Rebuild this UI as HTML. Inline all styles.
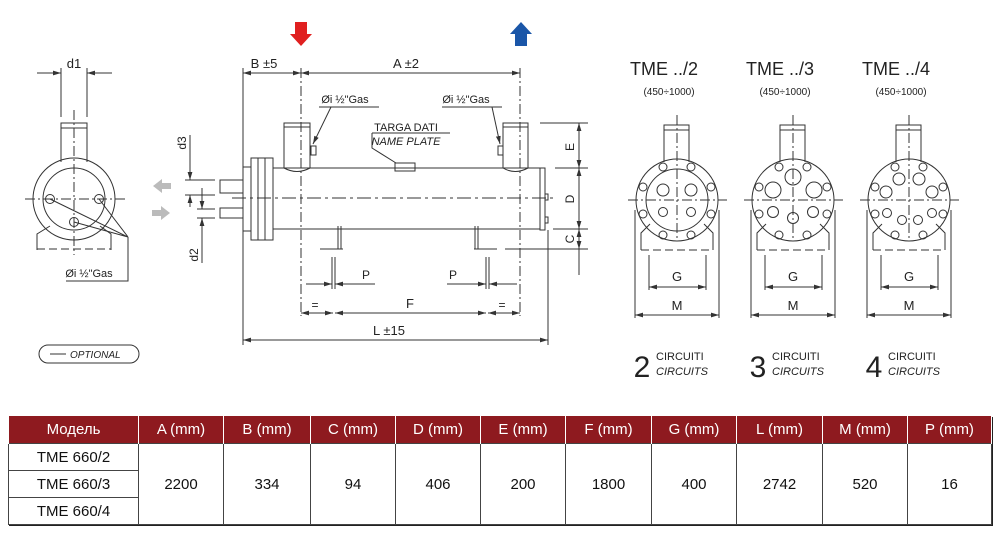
<!DOCTYPE html>
<html><head><meta charset="utf-8"><style>
body{margin:0;width:1000px;height:537px;background:#fff;overflow:hidden;position:relative;font-family:"Liberation Sans Narrow","Liberation Sans",sans-serif}
svg{position:absolute;left:0;top:0}
table{position:absolute;left:8px;top:416px;border-collapse:collapse;font-family:"Liberation Sans Narrow","Liberation Sans","DejaVu Sans",sans-serif;font-size:15px;color:#111;box-shadow:1px 1px 0 #222}
td{border:1px solid #444;text-align:center;padding:0;height:26px}
tr.h td{background:#8e1a1f;color:#fff;height:27px;border-color:#fff #fff #8e1a1f #fff;border-width:0 1px}
</style></head><body>
<svg width="1000" height="410" viewBox="0 0 1000 410" font-family="Liberation Sans Narrow, Liberation Sans, sans-serif" fill="none" stroke="#333" stroke-width="1">
<defs><marker id="a" viewBox="0 0 10 6" refX="10" refY="3" markerWidth="8" markerHeight="5" orient="auto-start-reverse"><path d="M0,0L10,3L0,6z" fill="#333" stroke="none"/></marker></defs>
<!-- left side view -->
<g>
<line x1="37" y1="73" x2="61" y2="73" marker-end="url(#a)"/><line x1="112" y1="73" x2="87" y2="73" marker-end="url(#a)"/>
<line x1="61" y1="68" x2="61" y2="117"/><line x1="87" y1="68" x2="87" y2="117"/>
<text x="74" y="68" font-size="13" fill="#222" stroke="none" text-anchor="middle">d1</text>
<rect x="61" y="123" width="26" height="5"/><path d="M61,128V162M87,128V162"/>
<circle cx="74" cy="199" r="41"/><circle cx="74" cy="199" r="31"/>
<line x1="74" y1="110" x2="74" y2="255" stroke-dasharray="10,3,2,3"/>
<line x1="25" y1="199" x2="125" y2="199" stroke-dasharray="10,3,2,3"/>
<circle cx="50" cy="199" r="4.5"/><circle cx="99" cy="199" r="4.5"/><circle cx="74" cy="222" r="4.5"/>
<path d="M37,250V234L50,226M111,250V234L100,226"/>
<line x1="37" y1="249" x2="111" y2="249" stroke-dasharray="8,4"/>
<path d="M50,199L128,237M99,199L128,237M74,222L128,237M128,237V281H66"/>
<text x="89" y="277" font-size="11" fill="#222" stroke="none" text-anchor="middle">Øi ½"Gas</text>
<rect x="39" y="345" width="100" height="18" rx="9"/>
<line x1="50" y1="354" x2="66" y2="354"/>
<text x="70" y="358" font-size="10" font-style="italic" fill="#222" stroke="none">OPTIONAL</text>
</g>
<!-- gray arrows -->
<path d="M153,186l9,-7v4h9v6h-9v4z" fill="#bbb" stroke="none"/>
<path d="M170,213l-9,-7v4h-9v6h9v4z" fill="#bbb" stroke="none"/>
<!-- d3 d2 -->
<line x1="190" y1="135" x2="190" y2="180" marker-end="url(#a)"/><line x1="190" y1="207" x2="190" y2="195" marker-end="url(#a)"/>
<line x1="185" y1="180" x2="215" y2="180"/><line x1="185" y1="195" x2="215" y2="195"/>
<text transform="translate(186,143) rotate(-90)" font-size="12" fill="#222" stroke="none" text-anchor="middle">d3</text>
<line x1="202" y1="188" x2="202" y2="209" marker-end="url(#a)"/><line x1="202" y1="263" x2="202" y2="218" marker-end="url(#a)"/>
<line x1="197" y1="209" x2="215" y2="209"/><line x1="197" y1="218" x2="215" y2="218"/>
<text transform="translate(198,255) rotate(-90)" font-size="12" fill="#222" stroke="none" text-anchor="middle">d2</text>
<!-- flow arrows -->
<path d="M295,22h12v12h5l-11,12l-11,-12h5z" fill="#e02020" stroke="none"/>
<path d="M515,46h12v-12h5l-11,-12l-11,12h5z" fill="#1a56a8" stroke="none"/>
<!-- top dims -->
<line x1="243" y1="73" x2="301" y2="73" marker-start="url(#a)" marker-end="url(#a)"/>
<line x1="301" y1="73" x2="520" y2="73" marker-start="url(#a)" marker-end="url(#a)"/>
<text x="264" y="68" font-size="13" fill="#222" stroke="none" text-anchor="middle">B ±5</text>
<text x="406" y="68" font-size="13" fill="#222" stroke="none" text-anchor="middle">A ±2</text>
<line x1="243" y1="68" x2="243" y2="345"/>
<line x1="301" y1="68" x2="301" y2="316" stroke-dasharray="10,3,2,3"/>
<line x1="520" y1="68" x2="520" y2="316" stroke-dasharray="10,3,2,3"/>
<!-- body -->
<rect x="220" y="180" width="23" height="13"/><rect x="220" y="208" width="23" height="10"/>
<rect x="243" y="167" width="8" height="64"/>
<rect x="251" y="158" width="22" height="82"/><path d="M258,158V240M265,158V240"/>
<path d="M273,168H540M273,229H540"/>
<rect x="540" y="168" width="5" height="62"/><rect x="545" y="194" width="3" height="6"/><rect x="545" y="217" width="3" height="6"/>
<line x1="232" y1="198" x2="557" y2="198" stroke-dasharray="14,4,3,4"/>
<rect x="284" y="123" width="26" height="4"/><path d="M284,127V168M310,127V168M284,168Q297,175 310,168"/>
<rect x="503" y="123" width="25" height="4"/><path d="M503,127V168M528,127V168M503,168Q515,175 528,168"/>
<rect x="311" y="146" width="5" height="9"/><rect x="498" y="146" width="5" height="9"/>
<line x1="319" y1="107" x2="379" y2="107"/><line x1="331" y1="107" x2="313" y2="144" marker-end="url(#a)"/>
<text x="345" y="103" font-size="11" fill="#222" stroke="none" text-anchor="middle">Øi ½"Gas</text>
<line x1="442" y1="107" x2="502" y2="107"/><line x1="492" y1="107" x2="500" y2="144" marker-end="url(#a)"/>
<text x="466" y="103" font-size="11" fill="#222" stroke="none" text-anchor="middle">Øi ½"Gas</text>
<text x="406" y="131" font-size="11" fill="#222" stroke="none" text-anchor="middle">TARGA DATI</text>
<text x="406" y="145" font-size="11" font-style="italic" fill="#222" stroke="none" text-anchor="middle">NAME PLATE</text>
<line x1="372" y1="133" x2="450" y2="133"/><path d="M372,133V148L396,163"/>
<rect x="395" y="163" width="20" height="8"/>
<!-- feet -->
<path d="M338,226V249H322M341,226V249" /><line x1="320" y1="249" x2="343" y2="249"/>
<path d="M475,226V249H490M478,226V249"/><line x1="474" y1="249" x2="497" y2="249"/>
<!-- P dims -->
<path d="M332,257V289M335,257V289M486,257V289M489,257V289"/>
<line x1="306" y1="284" x2="332" y2="284" marker-end="url(#a)"/><line x1="375" y1="284" x2="335" y2="284" marker-end="url(#a)"/>
<line x1="447" y1="284" x2="486" y2="284" marker-end="url(#a)"/><line x1="517" y1="284" x2="489" y2="284" marker-end="url(#a)"/>
<text x="366" y="279" font-size="12" fill="#222" stroke="none" text-anchor="middle">P</text>
<text x="453" y="279" font-size="12" fill="#222" stroke="none" text-anchor="middle">P</text>
<line x1="301" y1="313" x2="333" y2="313" marker-start="url(#a)" marker-end="url(#a)"/>
<line x1="335" y1="313" x2="486" y2="313" marker-start="url(#a)" marker-end="url(#a)"/>
<line x1="488" y1="313" x2="520" y2="313" marker-start="url(#a)" marker-end="url(#a)"/>
<text x="315" y="309" font-size="12" fill="#222" stroke="none" text-anchor="middle">=</text>
<text x="410" y="308" font-size="13" fill="#222" stroke="none" text-anchor="middle">F</text>
<text x="502" y="309" font-size="12" fill="#222" stroke="none" text-anchor="middle">=</text>
<line x1="548" y1="230" x2="548" y2="345"/>
<line x1="243" y1="340" x2="548" y2="340" marker-start="url(#a)" marker-end="url(#a)"/>
<text x="389" y="335" font-size="13" fill="#222" stroke="none" text-anchor="middle">L ±15</text>
<!-- right side dims -->
<path d="M540,123H588M555,168H588M553,229H588M505,249H588"/>
<line x1="579" y1="123" x2="579" y2="168" marker-start="url(#a)" marker-end="url(#a)"/>
<line x1="579" y1="168" x2="579" y2="229" marker-start="url(#a)" marker-end="url(#a)"/>
<line x1="579" y1="229" x2="579" y2="249" marker-start="url(#a)" marker-end="url(#a)"/>
<line x1="579" y1="249" x2="579" y2="275"/>
<text transform="translate(574,147) rotate(-90)" font-size="12" fill="#222" stroke="none" text-anchor="middle">E</text>
<text transform="translate(574,199) rotate(-90)" font-size="12" fill="#222" stroke="none" text-anchor="middle">D</text>
<text transform="translate(574,239) rotate(-90)" font-size="12" fill="#222" stroke="none" text-anchor="middle">C</text>

<!-- right panel units -->
<g id="u1">
<rect x="664" y="125" width="25" height="5"/><path d="M664,130V162M689,130V162"/>
<line x1="677" y1="115" x2="677" y2="238" stroke-dasharray="10,3,2,3"/>
<line x1="628" y1="200" x2="727" y2="200" stroke-dasharray="10,3,2,3"/>
<circle cx="677" cy="200" r="41"/>
<path d="M641,250V233L650,224M713,250V233L704,224M635,210V318M719,210V318"/>
<line x1="641" y1="250" x2="713" y2="250" stroke-dasharray="8,4"/>
<path d="M649,255V290M706,255V290"/>
<line x1="649" y1="287" x2="706" y2="287" marker-start="url(#a)" marker-end="url(#a)"/>
<line x1="635" y1="315" x2="719" y2="315" marker-start="url(#a)" marker-end="url(#a)"/>
<g fill="#222" stroke="none">
<text x="677" y="281" font-size="13" text-anchor="middle">G</text>
<text x="677" y="310" font-size="13" text-anchor="middle">M</text></g>
</g>
<use href="#u1" x="116"/><use href="#u1" x="232"/>
<!-- unit 1 holes -->
<circle cx="677" cy="200" r="31"/>
<g id="b1"><circle cx="663" cy="167" r="4"/><circle cx="691" cy="167" r="4"/><circle cx="643" cy="187" r="4"/><circle cx="711" cy="187" r="4"/><circle cx="643" cy="214" r="4"/><circle cx="711" cy="214" r="4"/><circle cx="663" cy="235" r="4"/><circle cx="691" cy="235" r="4"/></g>
<circle cx="663" cy="190" r="6"/><circle cx="691" cy="190" r="6"/><circle cx="663" cy="212" r="4.5"/><circle cx="691" cy="212" r="4.5"/>
<use href="#b1" x="116"/><use href="#b1" x="232"/>
<!-- unit 3 -->
<circle cx="793" cy="177" r="8"/><circle cx="773" cy="190" r="8"/><circle cx="814" cy="190" r="8"/>
<circle cx="773" cy="212" r="5.5"/><circle cx="813" cy="212" r="5.5"/><circle cx="793" cy="218" r="5.5"/>
<!-- unit 4 -->
<circle cx="899" cy="179" r="6"/><circle cx="919" cy="179" r="6"/><circle cx="886" cy="192" r="6"/><circle cx="932" cy="192" r="6"/>
<circle cx="887" cy="213" r="4.5"/><circle cx="932" cy="213" r="4.5"/><circle cx="902" cy="220" r="4.5"/><circle cx="918" cy="220" r="4.5"/>
<g fill="#222" stroke="none">
<text x="664" y="75" font-size="18" text-anchor="middle">TME ../2</text>
<text x="780" y="75" font-size="18" text-anchor="middle">TME ../3</text>
<text x="896" y="75" font-size="18" text-anchor="middle">TME ../4</text>
<text x="669" y="95" font-size="10" text-anchor="middle">(450÷1000)</text>
<text x="785" y="95" font-size="10" text-anchor="middle">(450÷1000)</text>
<text x="901" y="95" font-size="10" text-anchor="middle">(450÷1000)</text>
<text x="642" y="377" font-size="30" text-anchor="middle">2</text>
<text x="758" y="377" font-size="30" text-anchor="middle">3</text>
<text x="874" y="377" font-size="30" text-anchor="middle">4</text>
<text x="656" y="360" font-size="11">CIRCUITI</text><text x="656" y="375" font-size="11" font-style="italic">CIRCUITS</text>
<text x="772" y="360" font-size="11">CIRCUITI</text><text x="772" y="375" font-size="11" font-style="italic">CIRCUITS</text>
<text x="888" y="360" font-size="11">CIRCUITI</text><text x="888" y="375" font-size="11" font-style="italic">CIRCUITS</text>
</g>
</svg>
<table>
<tr class="h"><td style="width:129px">Модель</td><td style="width:84px">A (mm)</td><td style="width:86px">B (mm)</td><td style="width:84px">C (mm)</td><td style="width:84px">D (mm)</td><td style="width:84px">E (mm)</td><td style="width:85px">F (mm)</td><td style="width:84px">G (mm)</td><td style="width:85px">L (mm)</td><td style="width:84px">M (mm)</td><td style="width:83px">P (mm)</td></tr>
<tr><td>TME 660/2</td><td rowspan="3">2200</td><td rowspan="3">334</td><td rowspan="3">94</td><td rowspan="3">406</td><td rowspan="3">200</td><td rowspan="3">1800</td><td rowspan="3">400</td><td rowspan="3">2742</td><td rowspan="3">520</td><td rowspan="3">16</td></tr>
<tr><td>TME 660/3</td></tr>
<tr><td>TME 660/4</td></tr>
</table>
</body></html>
